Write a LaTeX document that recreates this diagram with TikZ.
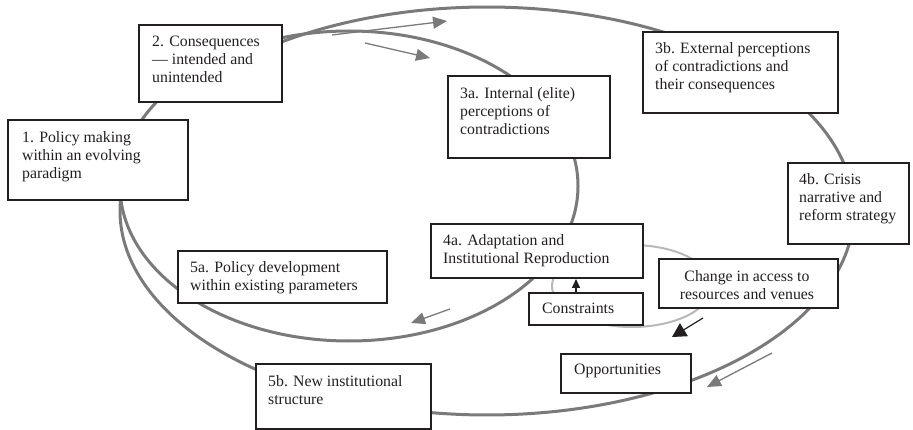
\documentclass[tikz,border=0pt]{standalone}
\usepackage{fontspec}
\setmainfont{Liberation Serif}
\usetikzlibrary{arrows.meta}
\definecolor{loopgray}{HTML}{7A7A7A}
\definecolor{lightloop}{HTML}{B8B8B8}
\definecolor{ink}{HTML}{231F20}
\begin{document}
\begin{tikzpicture}[x=1pt,y=-1pt,
  box/.style={draw=ink, line width=2pt, fill=white, inner sep=0pt, anchor=north west},
  txt/.style={inner sep=0pt, anchor=north west, align=left, text=ink, font=\fontsize{15.8}{18}\selectfont},
  loopline/.style={draw=loopgray, line width=3pt},
  lightline/.style={draw=lightloop, line width=2pt},
  garrow/.style={draw=loopgray, line width=1.3pt, -{Triangle[length=14pt,width=12pt]}},
  barrow/.style={draw=ink, line width=1.2pt, -{Triangle[length=14pt,width=15pt]}},
  sarrow/.style={draw=ink, line width=1.5pt, -{Triangle[length=9pt,width=8pt]}},
]
\useasboundingbox (0,0) rectangle (913,430);

% inner loop (closed ellipse)
\draw[loopline] (349,186) ellipse [x radius=229pt, y radius=155pt];
% outer loop (from inside box 2, clockwise, to inside box 1)
\draw[loopline] plot[domain=130:-185, samples=240, smooth] ({487+367*cos(\x)}, {211-204*sin(\x)});
% small light loop
\draw[lightline] (632,286) ellipse [x radius=80pt, y radius=41pt];

% gray arrows
\coordinate (a1s) at (332,35); \coordinate (a1e) at (447,21);
\coordinate (a2s) at (365,43); \coordinate (a2e) at (430,58);
\coordinate (a3s) at (450,309); \coordinate (a3e) at (411,323);
\coordinate (a4s) at (772,353); \coordinate (a4e) at (707,387);
\draw[garrow] (a1s) -- (a1e);
\draw[garrow] (a2s) -- (a2e);
\draw[garrow] (a3s) -- (a3e);
\draw[garrow] (a4s) -- (a4e);

% boxes
\node[box, minimum width=180pt, minimum height=80pt] (b1) at (7,119) {};
\node[box, minimum width=143pt, minimum height=77pt] (b2) at (138,24) {};
\node[box, minimum width=162pt, minimum height=82pt] (b3a) at (447,75) {};
\node[box, minimum width=195pt, minimum height=81pt] (b3b) at (642,31) {};
\node[box, minimum width=121pt, minimum height=81pt] (b4b) at (787,162) {};
\node[box, minimum width=212pt, minimum height=54pt] (b4a) at (430,223) {};
\node[box, minimum width=209pt, minimum height=52pt] (b5a) at (177,250) {};
\node[box, minimum width=175pt, minimum height=65pt] (b5b) at (255,363) {};
\node[box, minimum width=114pt, minimum height=32pt] (bcon) at (528,292) {};
\node[box, minimum width=179pt, minimum height=49pt] (bchg) at (658,258) {};
\node[box, minimum width=130pt, minimum height=39pt] (bopp) at (560,353) {};

% texts
\node[txt] (t1) at (22,131) {1. Policy making\\within an evolving\\paradigm};
\node[txt] (t2) at (152,36) {2. Consequences\\— intended and\\unintended};
\node[txt] (t3a) at (460,87) {3a. Internal (elite)\\perceptions of\\contradictions};
\node[txt] (t3b) at (655,42) {3b. External perceptions\\of contradictions and\\their consequences};
\node[txt] (t4b) at (799,173) {4b. Crisis\\narrative and\\reform strategy};
\node[txt] (t4a) at (443,234) {4a. Adaptation and\\Institutional Reproduction};
\node[txt] (t5a) at (190,261) {5a. Policy development\\within existing parameters};
\node[txt] (t5b) at (268,375) {5b. New institutional\\structure};
\node[txt] (tcon) at (542,303) {Constraints};
\node[txt, anchor=north, align=center] (tchg) at (747,270) {Change in access to\\resources and venues};
\node[txt] (topp) at (574,364) {Opportunities};

% black arrows
\coordinate (a5s) at (703,318); \coordinate (a5e) at (672,337);
\draw[barrow] (a5s) -- (a5e);
\coordinate (c6) at (576,292);
\draw[sarrow] (c6) -- (c6 |- b4a.south);
\end{tikzpicture}
\end{document}
